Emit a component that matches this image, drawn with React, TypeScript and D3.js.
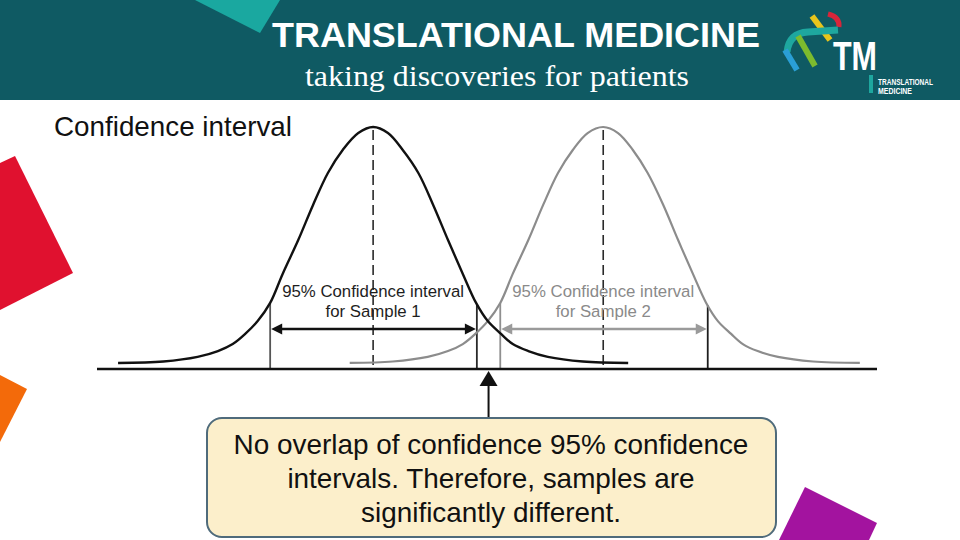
import React from "react";
import * as d3 from "d3";

// ---- data ----
const sample1X = [2.7, 8.5, 12.9, 15.5, 17.4, 19.0, 20.6, 22.2, 23.8, 25.8, 27.7, 29.6, 31.5, 33.5, 35.4, 37.3, 39.2, 41.2, 43.1, 45.0, 46.9, 48.6, 50.1, 51.8, 53.3, 55.3, 57.8, 62.3, 68.1];
const sample1Density = [0.025, 0.031, 0.05, 0.074, 0.103, 0.145, 0.198, 0.273, 0.393, 0.533, 0.678, 0.81, 0.905, 0.975, 1.0, 0.975, 0.905, 0.81, 0.678, 0.533, 0.393, 0.273, 0.198, 0.145, 0.103, 0.074, 0.05, 0.031, 0.025];
const sample2X = [32.4, 37.9, 42.4, 45.0, 46.9, 48.5, 50.1, 51.7, 53.3, 55.3, 57.2, 59.1, 61.0, 62.9, 64.9, 66.8, 68.7, 70.6, 72.6, 74.5, 76.4, 78.1, 79.6, 81.3, 82.8, 84.7, 87.3, 91.8, 97.8];
const sample2Density = [0.025, 0.031, 0.05, 0.074, 0.103, 0.145, 0.198, 0.273, 0.393, 0.533, 0.678, 0.81, 0.905, 0.975, 1.0, 0.975, 0.905, 0.81, 0.678, 0.533, 0.393, 0.273, 0.198, 0.145, 0.103, 0.074, 0.05, 0.031, 0.025];
const sampleMeans = [35.4, 64.9];
const ciLow = [22.2, 51.7];
const ciHigh = [48.7, 78.3];
const ciArrowLevel = 0.165;
const sampleNames = ["Sample 1", "Sample 2"];
const ciLabelLine1 = "95% Confidence interval";

const titleText = "TRANSLATIONAL MEDICINE";
const subtitleText = "taking discoveries for patients";
const headingText = "Confidence interval";
const calloutLines = [
  "No overlap of confidence 95% confidence",
  "intervals. Therefore, samples are",
  "significantly different.",
];
const logoSmall = ["TRANSLATIONAL", "MEDICINE"];

const SANS = "'Liberation Sans', Arial, Helvetica, sans-serif";
const SERIF = "'Liberation Serif', 'Times New Roman', serif";

export default function App() {
  const W = 960, H = 540;
  const x = d3.scaleLinear().domain([0, 100]).range([97, 877]);
  const y = d3.scaleLinear().domain([0, 1]).range([369, 127]);

  const line = d3
    .line<[number, number]>()
    .x((d) => x(d[0]))
    .y((d) => y(d[1]))
    .curve(d3.curveCatmullRom.alpha(0.5));

  const curves = [
    { xs: sample1X, ds: sample1Density, color: "#111111", width: 2.4 },
    { xs: sample2X, ds: sample2Density, color: "#8c8c8c", width: 2.2 },
  ];
  const interp = (i: number) =>
    d3.scaleLinear().domain(curves[i].xs).range(curves[i].ds);

  const ciStyle = [
    { lo: "#555555", hi: "#2a2a2a", arrow: "#111111", text: "#1e1e1e" },
    { lo: "#8f8f8f", hi: "#1e1e1e", arrow: "#9a9a9a", text: "#8a8a8a" },
  ];

  const ay = y(ciArrowLevel);
  const head = (xt: number, yt: number, dir: number) =>
    `${xt},${yt} ${xt - dir * 11},${yt - 5.5} ${xt - dir * 11},${yt + 5.5}`;

  const noteX = (x(ciHigh[0]) + x(ciLow[1])) / 2;

  return (
    <svg
      width={W}
      height={H}
      viewBox={`0 0 ${W} ${H}`}
      style={{ position: "absolute", left: 0, top: 0, display: "block", background: "#ffffff" }}
    >
      {/* header */}
      <rect x={0} y={0} width={W} height={100} fill="#0f5a63" />
      <polygon points="195,0 280,0 260,33" fill="#1aa8a0" />
      <text x={516} y={47} textAnchor="middle" fill="#ffffff" fontFamily={SANS} fontWeight="bold" fontSize={35} textLength={488} lengthAdjust="spacingAndGlyphs">
        {titleText}
      </text>
      <text x={497} y={86} textAnchor="middle" fill="#ffffff" fontFamily={SERIF} fontSize={29} textLength={384} lengthAdjust="spacingAndGlyphs">
        {subtitleText}
      </text>

      {/* logo */}
      <g>
        <path d="M812,16 L830,40" stroke="#e8c51c" strokeWidth={6} fill="none" />
        <path d="M828,14 Q840,17 839,27" stroke="#d8253a" strokeWidth={5} fill="none" />
        <path d="M787,52 Q789,33 808,32 L838,30" stroke="#1ea79f" strokeWidth={7} fill="none" />
        <path d="M798,36 L815,66" stroke="#7dbb2e" strokeWidth={6} fill="none" />
        <path d="M785,50 L797,70" stroke="#2a9fd6" strokeWidth={6} fill="none" />
        <text x={833} y={70} fill="#ffffff" fontFamily={SANS} fontWeight="bold" fontSize={41} textLength={44} lengthAdjust="spacingAndGlyphs">
          TM
        </text>
        <rect x={869} y={75} width={4} height={18} fill="#1ea79f" />
        <text x={878} y={85} fill="#ffffff" fontFamily={SANS} fontWeight="bold" fontSize={9} textLength={55} lengthAdjust="spacingAndGlyphs">
          {logoSmall[0]}
        </text>
        <text x={878} y={93.5} fill="#ffffff" fontFamily={SANS} fontWeight="bold" fontSize={9} textLength={34} lengthAdjust="spacingAndGlyphs">
          {logoSmall[1]}
        </text>
      </g>

      {/* decorative shapes */}
      <polygon points="0,163 15,156 73,273 0,310" fill="#e0112f" />
      <polygon points="0,375 27,389 0,442" fill="#f36a0a" />
      <polygon points="805,487 877,523 869,540 779,540" fill="#a3139f" />

      <text x={54} y={136} fill="#111111" fontFamily={SANS} fontSize={27.8}>
        {headingText}
      </text>

      {/* CI boundary lines */}
      {[0, 1].map((i) => (
        <g key={`ci${i}`}>
          <line x1={x(ciLow[i])} x2={x(ciLow[i])} y1={y(interp(i)(ciLow[i]))} y2={y(0)} stroke={ciStyle[i].lo} strokeWidth={1.8} />
          <line x1={x(ciHigh[i])} x2={x(ciHigh[i])} y1={y(interp(i)(ciHigh[i]))} y2={y(0)} stroke={ciStyle[i].hi} strokeWidth={1.8} />
        </g>
      ))}

      {/* mean lines */}
      {sampleMeans.map((m, i) => (
        <line key={`m${i}`} x1={x(m)} x2={x(m)} y1={y(1) + 3} y2={y(0)} stroke="#2a2a2a" strokeWidth={1.6} strokeDasharray="10,5" />
      ))}

      {/* curves: grey first, black on top */}
      {[1, 0].map((i) => (
        <path
          key={`c${i}`}
          d={line(curves[i].xs.map((v, k) => [v, curves[i].ds[k]] as [number, number])) || ""}
          fill="none"
          stroke={curves[i].color}
          strokeWidth={curves[i].width}
        />
      ))}

      {/* CI arrows */}
      {[0, 1].map((i) => {
        const x0 = x(ciLow[i]) + 1;
        const x1 = x(ciHigh[i]) - 1;
        const c = ciStyle[i].arrow;
        return (
          <g key={`a${i}`}>
            <line x1={x0 + 8} x2={x1 - 8} y1={ay} y2={ay} stroke={c} strokeWidth={2.4} />
            <polygon points={head(x0, ay, -1)} fill={c} />
            <polygon points={head(x1, ay, 1)} fill={c} />
          </g>
        );
      })}

      {/* CI labels */}
      {sampleMeans.map((m, i) => (
        <g key={`t${i}`} fontFamily={SANS} fontSize={16.8} fill={ciStyle[i].text} textAnchor="middle">
          <text x={x(m)} y={297}>{ciLabelLine1}</text>
          <text x={x(m)} y={317}>{`for ${sampleNames[i]}`}</text>
        </g>
      ))}

      {/* axis */}
      <line x1={x(0)} x2={x(100)} y1={y(0)} y2={y(0)} stroke="#111111" strokeWidth={2.6} />

      {/* pointer arrow */}
      <line x1={noteX} x2={noteX} y1={384} y2={418} stroke="#111111" strokeWidth={2} />
      <polygon points={`${noteX},371 ${noteX - 9},386 ${noteX + 9},386`} fill="#111111" />

      {/* callout */}
      <rect x={207} y={418} width={569} height={119} rx={15} ry={15} fill="#fcefcb" stroke="#4f6b7b" strokeWidth={2} />
      {calloutLines.map((t, i) => (
        <text key={`n${i}`} x={491} y={454 + i * 34} textAnchor="middle" fontFamily={SANS} fontSize={27.9} fill="#111111">
          {t}
        </text>
      ))}
    </svg>
  );
}
